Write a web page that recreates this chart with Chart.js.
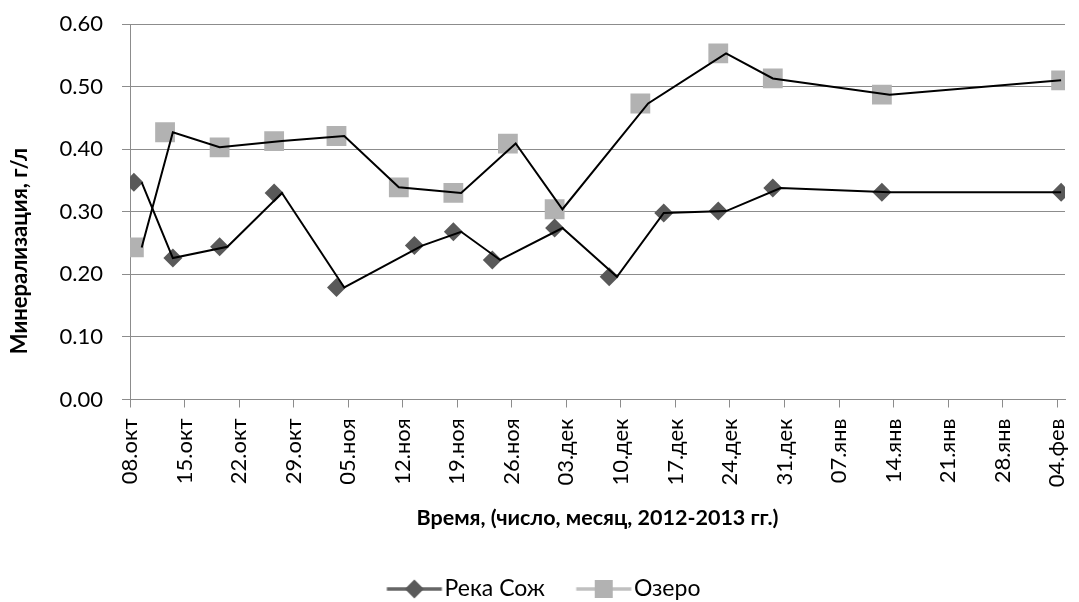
<!DOCTYPE html>
<html lang="ru">
<head>
<meta charset="utf-8">
<title>Минерализация</title>
<script src="https://cdn.jsdelivr.net/npm/chart.js@4.4.1/dist/chart.umd.min.js"></script>
<style>
  html, body { margin: 0; padding: 0; background: #fff; }
  #wrap { width: 1079px; height: 602px; position: relative; }
</style>
</head>
<body>
<div id="wrap"><canvas id="grafico"></canvas></div>
<script>
/* ================= DADOS ================= */
// dias contados a partir de 08.10.2012

const tickLabels = ["08.окт", "15.окт", "22.окт", "29.окт", "05.ноя", "12.ноя",
  "19.ноя", "26.ноя", "03.дек", "10.дек", "17.дек", "24.дек", "31.дек",
  "07.янв", "14.янв", "21.янв", "28.янв", "04.фев"];

const diasSozh = [0, 5, 11, 18, 26, 36, 41, 46, 54, 61, 68, 75, 82, 96, 119];
const valoresSozh = [0.347, 0.226, 0.244, 0.330, 0.179, 0.246, 0.268, 0.223,
  0.274, 0.196, 0.298, 0.301, 0.338, 0.331, 0.331];
const diasLinhaSozh = [1, 5, 12, 19, 27, 37, 42, 47, 55, 62, 68, 76, 83, 97, 119];

const diasOzero = [0, 4, 11, 18, 26, 34, 41, 48, 54, 65, 75, 82, 96, 119];
const valoresOzero = [0.243, 0.427, 0.403, 0.413, 0.421, 0.339, 0.330, 0.409,
  0.304, 0.473, 0.553, 0.513, 0.487, 0.510];
const diasLinhaOzero = [1, 5, 11, 19, 27, 34, 42, 49, 55, 66, 76, 82, 97, 119];

const corSozh = "#595959";
const corOzero = "#b2b2b2";
const corGrade = "#8c8c8c";
const fonte = "Lato";

/* ================= UTIL ================= */

function pontos(dias, valores) {
  return dias.map((d, i) => ({ x: d, y: valores[i] }));
}

// icone da legenda: linha + marcador
function iconeLegenda(cor, corLinha, tipo) {
  const c = document.createElement("canvas");
  c.width = 84;
  c.height = 24;
  const ctx = c.getContext("2d");
  ctx.strokeStyle = corLinha;
  ctx.lineWidth = 3.5;
  ctx.beginPath();
  ctx.moveTo(27.5, 12);
  ctx.lineTo(82.5, 12);
  ctx.stroke();
  ctx.fillStyle = cor;
  ctx.beginPath();
  if (tipo === "diamante") {
    ctx.moveTo(55, 2.5);
    ctx.lineTo(64.5, 12);
    ctx.lineTo(55, 21.5);
    ctx.lineTo(45.5, 12);
    ctx.closePath();
  } else {
    ctx.rect(46, 3, 18, 18);
  }
  ctx.fill();
  return c;
}

const icones = [
  iconeLegenda(corSozh, "#666666", "diamante"),
  iconeLegenda(corOzero, "#c0c0c0", "quadrado")
];

/* ================= TITULO Y ================= */

const tituloY = {
  id: "tituloY",
  afterDraw(chart) {
    const ctx = chart.ctx;
    ctx.save();
    ctx.translate(20, 251);
    ctx.rotate(-Math.PI / 2);
    ctx.font = "bold 22px " + fonte;
    ctx.fillStyle = "#000";
    ctx.textAlign = "center";
    ctx.textBaseline = "middle";
    ctx.fillText("Минерализация, г/л", 0, 0);
    ctx.restore();
  }
};

/* ================= GRÁFICO ================= */

new Chart(document.getElementById("grafico"), {
  type: "scatter",
  data: {
    datasets: [
      {
        label: "Река Сож",
        data: pontos(diasSozh, valoresSozh),
        showLine: false,
        pointStyle: "rectRot",
        pointRadius: 9.5,
        pointBackgroundColor: corSozh,
        pointBorderWidth: 0,
        order: 1
      },
      {
        label: "Озеро",
        data: pontos(diasOzero, valoresOzero),
        showLine: false,
        pointStyle: "rect",
        pointRadius: 14,
        pointBackgroundColor: corOzero,
        pointBorderWidth: 0,
        order: 1
      },
      {
        label: "linhaSozh",
        data: pontos(diasLinhaSozh, valoresSozh),
        showLine: true,
        borderColor: "#000",
        borderWidth: 2,
        pointRadius: 0,
        order: 0
      },
      {
        label: "linhaOzero",
        data: pontos(diasLinhaOzero, valoresOzero),
        showLine: true,
        borderColor: "#000",
        borderWidth: 2,
        pointRadius: 0,
        order: 0
      }
    ]
  },
  options: {
    responsive: true,
    maintainAspectRatio: false,
    animation: false,
    events: [],
    layout: { padding: { top: 24, right: 9, bottom: -8.5, left: 0 } },
    scales: {
      x: {
        type: "linear",
        min: -0.5,
        max: 119.5,
        afterBuildTicks(scale) {
          scale.ticks = tickLabels.map((t, i) => ({ value: i * 7 - 0.5 }));
        },
        afterFit(scale) {
          scale.height = 164;
          scale.paddingLeft = 0;
          scale.paddingRight = 0;
        },
        ticks: {
          autoSkip: false,
          minRotation: 90,
          maxRotation: 90,
          padding: 11,
          color: "#000",
          font: { family: fonte, size: 22 },
          callback: (v, i) => tickLabels[i]
        },
        grid: { drawOnChartArea: false, color: corGrade, tickLength: 8 },
        border: { color: corGrade },
        title: {
          display: true,
          text: "Время, (число, месяц, 2012-2013 гг.)",
          color: "#000",
          font: { family: fonte, size: 21.5, weight: "bold" },
          padding: { top: 0, bottom: 33 }
        }
      },
      y: {
        min: 0,
        max: 0.6,
        afterFit(scale) {
          scale.width = 130;
          scale.paddingTop = 0;
          scale.paddingBottom = 0;
        },
        ticks: {
          stepSize: 0.1,
          padding: 19,
          color: "#000",
          font: { family: fonte, size: 22 },
          callback: v => v.toFixed(2)
        },
        grid: { color: corGrade, tickLength: 8 },
        border: { color: corGrade }
      }
    },
    plugins: {
      tooltip: { enabled: false },
      legend: {
        position: "bottom",
        labels: {
          usePointStyle: true,
          pointStyleWidth: 63.5,
          padding: 14,
          color: "#000",
          font: { family: fonte, size: 23 },
          filter: item => item.datasetIndex < 2,
          generateLabels(chart) {
            const itens = Chart.defaults.plugins.legend.labels.generateLabels(chart);
            itens.forEach(it => {
              if (it.datasetIndex < 2) it.pointStyle = icones[it.datasetIndex];
            });
            return itens;
          }
        }
      }
    }
  },
  plugins: [tituloY]
});
</script>
</body>
</html>
